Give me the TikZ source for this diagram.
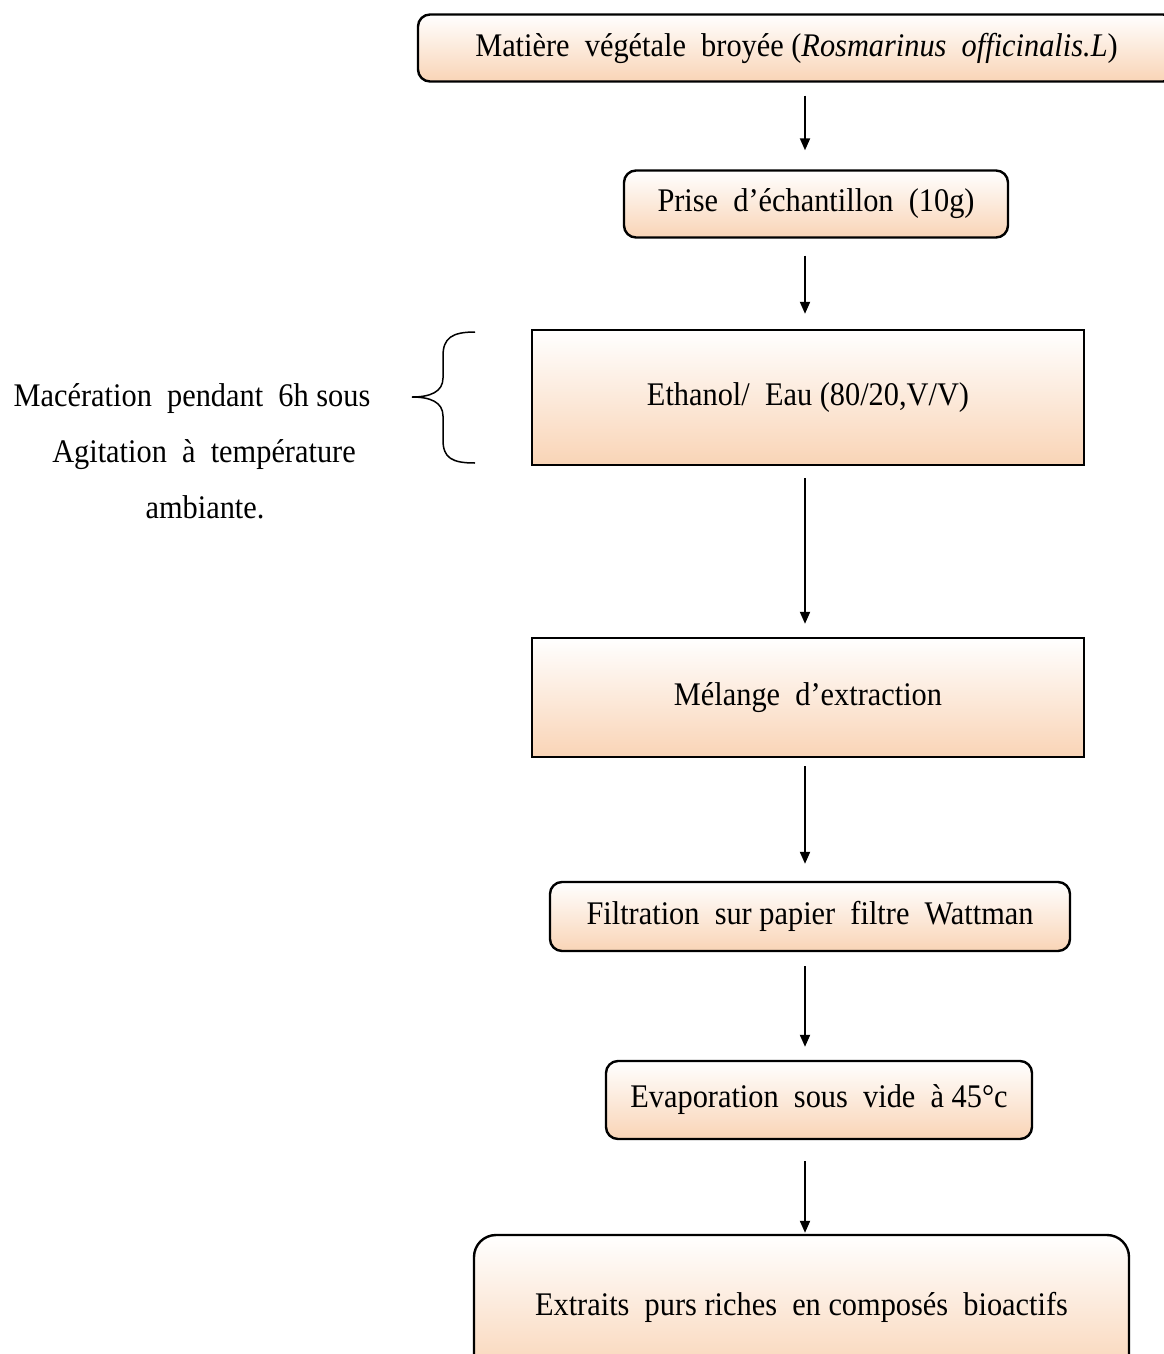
\documentclass[tikz,border=0pt]{standalone}
\usepackage{fontspec}
\setmainfont{Liberation Serif}[FakeStretch=0.92]
\usetikzlibrary{arrows.meta}
\definecolor{peach}{RGB}{249,212,182}
\tikzset{
  box/.style={draw=black, line width=2.4pt, top color=white, bottom color=peach,
    font=\fontsize{33}{40}\selectfont, inner sep=0pt},
  rbox/.style={box, rounded corners=12pt},
  arr/.style={-{Triangle[width=10pt,length=12pt]}, line width=2pt},
  side/.style={font=\fontsize{33}{56}\selectfont, align=center, inner sep=0pt},
}
\begin{document}
\begin{tikzpicture}[x=1pt,y=-1pt]
\useasboundingbox (0,0) rectangle (1163,1354);
\node[rbox, minimum width=757pt, minimum height=67pt] (n1) at (796.5,48)
  {Matière \ végétale \ broyée (\textit{Rosmarinus \ officinalis.L})};
\node[rbox, minimum width=384pt, minimum height=67pt] (n2) at (816,204)
  {Prise \ d’échantillon \ (10g)};
\node[box, minimum width=552pt, minimum height=135pt] (n3) at (808,397.5)
  {Ethanol/ \ Eau (80/20,V/V)};
\node[box, minimum width=552pt, minimum height=119pt] (n4) at (808,697.5)
  {Mélange \ d’extraction};
\node[rbox, minimum width=520pt, minimum height=69pt] (n5) at (810,916.5)
  {Filtration \ sur papier \ filtre \ Wattman};
\node[rbox, minimum width=426pt, minimum height=78pt] (n6) at (819,1100)
  {Evaporation \ sous \ vide \ à 45°c};
\node[rbox, rounded corners=22pt, minimum width=655pt, minimum height=144pt] (n7) at (801.5,1307)
  {Extraits \ purs riches \ en composés \ bioactifs};
\coordinate (ax) at (805,0);
\draw[arr, shorten <=13pt, shorten >=19pt] (n1.south -| ax) -- (n2.north -| ax);
\draw[arr, shorten <=17pt, shorten >=15pt] (n2.south -| ax) -- (n3.north -| ax);
\draw[arr, shorten <=12pt, shorten >=13pt] (n3.south -| ax) -- (n4.north -| ax);
\draw[arr, shorten <=8pt, shorten >=17pt] (n4.south -| ax) -- (n5.north -| ax);
\draw[arr, shorten <=14pt, shorten >=13pt] (n5.south -| ax) -- (n6.north -| ax);
\draw[arr, shorten <=21pt, shorten >=1pt] (n6.south -| ax) -- (n7.north -| ax);
% brace
\draw[line width=1.5pt] (475,332) .. controls (452,332) and (443,338) .. (443,356)
  -- (443,378) .. controls (443,392) and (430,397) .. (412,397)
  .. controls (430,397) and (443,402) .. (443,416)
  -- (443,440) .. controls (443,458) and (452,463) .. (475,463);
\node[side] (lt) at (192,451) {Macération \ pendant \ 6h sous\\\hspace*{24pt}Agitation \ à \ température\\\hspace*{26pt}ambiante.};
\end{tikzpicture}
\end{document}
